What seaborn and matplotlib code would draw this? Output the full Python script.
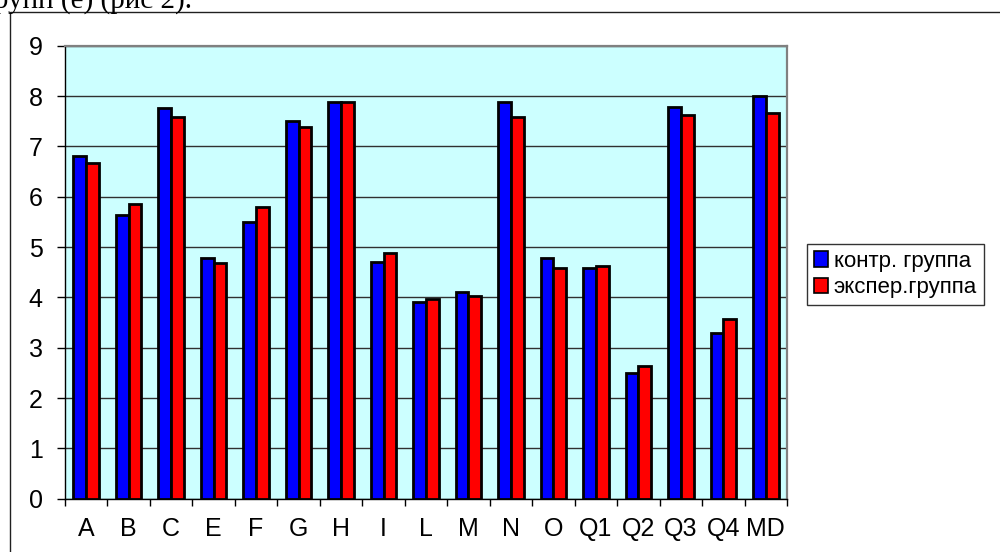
import matplotlib
matplotlib.use("Agg")
import matplotlib.pyplot as plt
from matplotlib.patches import Rectangle
import seaborn as sns
import pandas as pd

categories = ["A", "B", "C", "E", "F", "G", "H", "I", "L", "M", "N", "O",
              "Q1", "Q2", "Q3", "Q4", "MD"]
control = [6.81, 5.64, 7.76, 4.79, 5.49, 7.50, 7.89, 4.70, 3.90, 4.10, 7.89,
           4.79, 4.59, 2.49, 7.79, 3.30, 8.00]
experimental = [6.66, 5.85, 7.58, 4.69, 5.79, 7.39, 7.89, 4.89, 3.97, 4.02,
                7.59, 4.59, 4.63, 2.64, 7.63, 3.57, 7.67]
series_names = ["контр. группа", "экспер.группа"]
y_ticks = [0, 1, 2, 3, 4, 5, 6, 7, 8, 9]

plt.rcParams['font.family'] = ['Liberation Sans', 'DejaVu Sans']

df = pd.DataFrame({
    "cat": categories * 2,
    "val": control + experimental,
    "group": [series_names[0]] * len(categories) + [series_names[1]] * len(categories),
})

fig = plt.figure(figsize=(10, 5.52), dpi=100)
ax = fig.add_axes([0.065, 1 - 498.7 / 552, 0.787 - 0.065, (498.7 - 45.7) / 552])
ax.set_facecolor("#CCFFFF")

sns.barplot(data=df, x="cat", y="val", hue="group", order=categories,
            hue_order=series_names, palette=["#0000FF", "#FF0000"],
            saturation=1, width=0.6, edgecolor="black", linewidth=2.0,
            errorbar=None, ax=ax, zorder=3)

ax.set_ylim(0, 9)
ax.set_xlim(-0.5, len(categories) - 0.5)
ax.set_yticks(y_ticks)
ax.set_xlabel("")
ax.set_ylabel("")
ax.yaxis.grid(True, color="#303030", linewidth=1.0, zorder=0)
ax.set_axisbelow(True)

ax.tick_params(axis="y", length=6, width=1, color="black", labelsize=18, pad=10,
               direction="out")
ax.set_xticks(range(len(categories)))
ax.set_xticklabels(categories)
ax.tick_params(axis="x", which="major", length=0, labelsize=18, pad=13)
ax.set_xticks([i - 0.5 for i in range(len(categories) + 1)], minor=True)
ax.tick_params(axis="x", which="minor", length=5, width=1, color="black",
               direction="out")

for s in ["left", "bottom"]:
    ax.spines[s].set_color("black")
    ax.spines[s].set_linewidth(1.0)
for s in ["top", "right"]:
    ax.spines[s].set_color("#808080")
    ax.spines[s].set_linewidth(1.6)

leg = ax.legend(loc="upper left", bbox_to_anchor=(807 / 1000, 1 - 244 / 552),
                bbox_transform=fig.transFigure, fontsize=16, frameon=True,
                fancybox=False, shadow=False, borderaxespad=0, borderpad=0.3,
                handlelength=0.65, handleheight=0.7, handletextpad=0.25,
                labelspacing=0.25, title=None)
leg.get_frame().set_edgecolor("black")
leg.get_frame().set_linewidth(1.0)
for h in leg.legend_handles:
    h.set_linewidth(1.2)
    h.set_edgecolor("black")

# outer chart frame
fig.patches.append(Rectangle((10 / 1000, -0.1), 1.2, 1 - 12 / 552 + 0.1,
                             transform=fig.transFigure, fill=False,
                             edgecolor="#202020", linewidth=1.0))

# clipped document text above the chart
fig.text(192 / 1000, 1 - 8 / 552, "групп (е) (рис 2).", ha="right",
         va="baseline", fontsize=21, family=["Liberation Serif", "DejaVu Serif"])

fig.savefig("out.png", dpi=100)
